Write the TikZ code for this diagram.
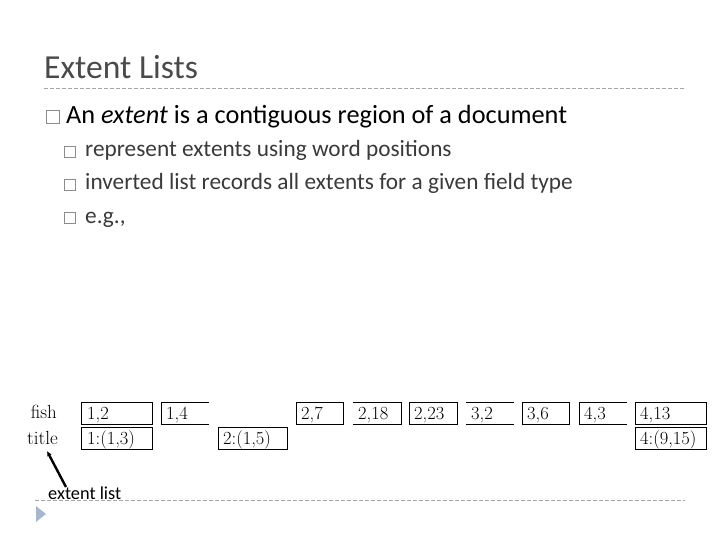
\documentclass[tikz,border=0pt]{standalone}
\usepackage{fontspec}
\setsansfont{Carlito}
\usetikzlibrary{arrows.meta}
\definecolor{titlegray}{HTML}{4A4A4A}
\definecolor{subgray}{HTML}{3A3A3A}
\definecolor{rulegray}{HTML}{A6A6A6}
\definecolor{bulletgray}{HTML}{8C8C8C}
\definecolor{tri}{HTML}{A7B7CD}
\newcommand{\cellfont}{\fontsize{18.5}{20}\selectfont\rmfamily}
\tikzset{
  x=1pt, y=-1pt,
  cellbox/.style={anchor=north west, minimum height=22pt, inner sep=0pt, line width=0.9pt},
  celltext/.style={anchor=base west, inner sep=0pt, font=\cellfont},
  rowlabel/.style={anchor=base east, inner sep=0pt, font=\fontsize{19}{20}\selectfont\rmfamily},
  sepline/.style={rulegray, dashed, dash pattern=on 4pt off 2pt, line width=0.8pt},
  bsq/.style={draw=bulletgray, line width=1.2pt},
  lvlone/.style={anchor=base west, inner sep=0pt, font=\sffamily\fontsize{26.3}{30}\selectfont},
  lvltwo/.style={anchor=base west, inner sep=0pt, text=subgray, font=\sffamily\fontsize{23.3}{26}\selectfont},
}
\begin{document}
\begin{tikzpicture}
\useasboundingbox (0,0) rectangle (720,540);
% title
\node[anchor=base west, inner sep=0pt, text=titlegray, font=\sffamily\fontsize{33.6}{38}\selectfont] (title) at (44,79) {Extent Lists};
\coordinate (r1a) at (44,88); \coordinate (r1b) at (685,88);
\draw[sepline] (r1a) -- (r1b);
% bullets
\draw[bsq] (46.5,110.5) rectangle (59.5,123.5);
\node[lvlone] (b1) at (66,124) {An \textit{extent} is a contiguous region of a document};
\draw[bsq, line width=1pt] (64.5,146.5) rectangle (75.5,157.5);
\node[lvltwo] (b2) at (85,157) {represent extents using word positions};
\draw[bsq, line width=1pt] (64.5,179.5) rectangle (75.5,190.5);
\node[lvltwo] (b3) at (85,190) {inverted list records all extents for a given field type};
\draw[bsq, line width=1pt] (64.5,212.5) rectangle (75.5,223.5);
\node[lvltwo] (b4) at (85,223) {e.g.,};
% row labels
\node[rowlabel] (fish) at (57,418) {fish};
\node[rowlabel] (tit) at (58,444) {title};
% fish row
\node[cellbox, draw, minimum width=71pt] (f1) at (81,402) {};
\node[cellbox, minimum width=47pt] (f2) at (161,402) {};
\draw[line width=0.9pt] (f2.north east) -- (f2.north west) -- (f2.south west) -- (f2.south east);
\node[cellbox, draw, minimum width=47pt] (f3) at (296,402) {};
\node[cellbox, minimum width=48pt] (f4) at (353,402) {};
\draw[line width=0.9pt] (f4.north west) -- (f4.north east) -- (f4.south east) -- (f4.south west);
\node[cellbox, draw, minimum width=48pt] (f5) at (409,402) {};
\node[cellbox, minimum width=47pt] (f6) at (466,402) {};
\draw[line width=0.9pt] (f6.north west) -- (f6.north east) (f6.south west) -- (f6.south east);
\node[cellbox, draw, minimum width=47pt] (f7) at (522,402) {};
\node[cellbox, minimum width=47pt] (f8) at (579,402) {};
\draw[line width=0.9pt] (f8.north east) -- (f8.north west) -- (f8.south west) -- (f8.south east);
\node[cellbox, draw, minimum width=71pt] (f9) at (635,402) {};
\node[celltext] at ([xshift=6pt,yshift=5pt]f1.south west) {1,2};
\node[celltext] at ([xshift=5pt,yshift=5pt]f2.south west) {1,4};
\node[celltext] at ([xshift=5pt,yshift=5pt]f3.south west) {2,7};
\node[celltext] at ([xshift=5pt,yshift=5pt]f4.south west) {2,18};
\node[celltext] at ([xshift=5pt,yshift=5pt]f5.south west) {2,23};
\node[celltext] at ([xshift=5pt,yshift=5pt]f6.south west) {3,2};
\node[celltext] at ([xshift=5pt,yshift=5pt]f7.south west) {3,6};
\node[celltext] at ([xshift=5pt,yshift=5pt]f8.south west) {4,3};
\node[celltext] at ([xshift=5pt,yshift=5pt]f9.south west) {4,13};
% title row
\node[cellbox, draw, minimum width=71pt] (t1) at (81,427) {};
\node[cellbox, draw, minimum width=69pt] (t2) at (218,427) {};
\node[cellbox, draw, minimum width=71pt] (t3) at (635,427) {};
\node[celltext] at ([xshift=6pt,yshift=5pt]t1.south west) {1:(1,3)};
\node[celltext] at ([xshift=5pt,yshift=5pt]t2.south west) {2:(1,5)};
\node[celltext] at ([xshift=5pt,yshift=5pt]t3.south west) {4:(9,15)};
% extent list pointer
\node[anchor=base west, inner sep=0pt, font=\sffamily\fontsize{18.3}{20}\selectfont] (el) at (48,499) {extent list};
\coordinate (tip) at (47,451);
\coordinate (tail) at (66,487);
\draw[line width=2.4pt, -{Latex[length=5pt,width=5pt]}] (tail) -- (tip);
% bottom rule and triangle
\coordinate (r2a) at (35,500); \coordinate (r2b) at (685,500);
\draw[sepline] (r2a) -- (r2b);
\fill[tri] (36,506) -- (46,514) -- (36,522) -- cycle;
\end{tikzpicture}
\end{document}
